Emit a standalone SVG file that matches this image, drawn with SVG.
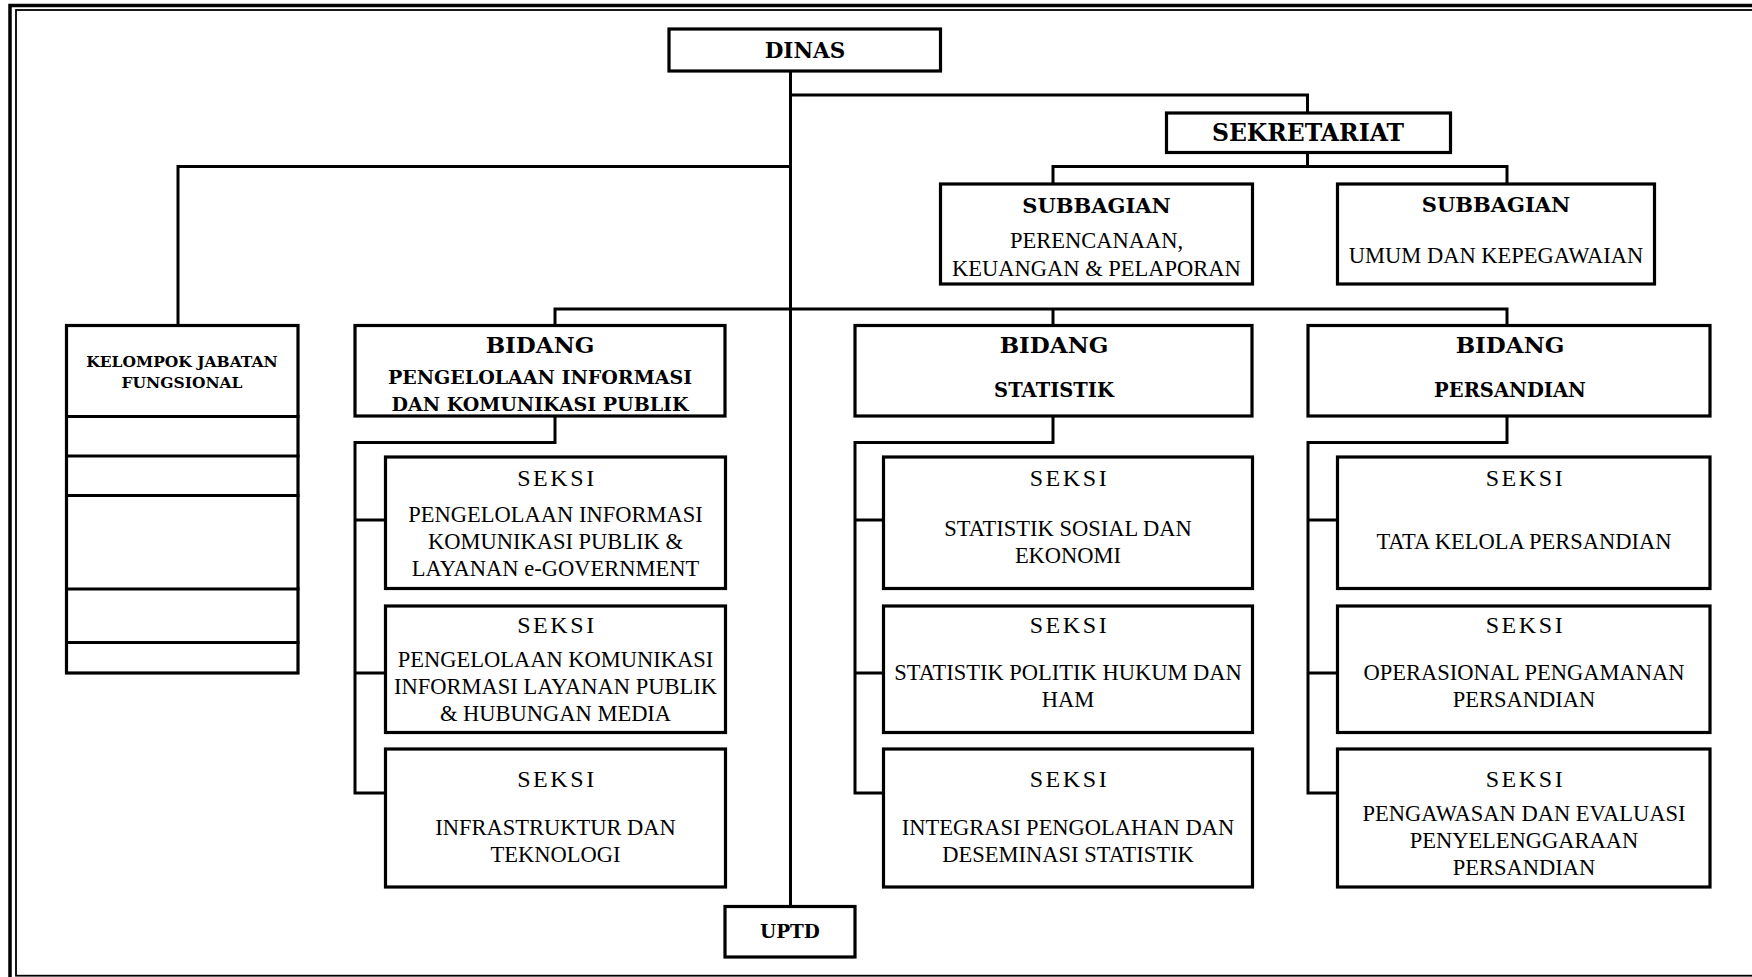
<svg xmlns="http://www.w3.org/2000/svg" width="1752" height="977" viewBox="0 0 1752 977">
<style>
.box{fill:#fff;stroke:#000;stroke-width:3.2}
.ln{fill:none;stroke:#000;stroke-width:3;stroke-linecap:square}
.h{font-family:"DejaVu Serif","Liberation Serif",serif;font-weight:bold;text-anchor:middle;fill:#000}
.t{font-family:"Liberation Serif","Times New Roman",serif;font-size:22.5px;text-anchor:middle;fill:#000}
.sk{font-family:"Liberation Serif","Times New Roman",serif;font-size:24px;letter-spacing:2.6px;text-anchor:middle;fill:#000}
</style>
<rect x="0" y="0" width="1752" height="977" fill="#fff"/>
<g id="frame">
<rect x="10" y="5.5" width="1760" height="990" fill="none" stroke="#000" stroke-width="3.5"/>
<rect x="16" y="10" width="1750" height="965.7" fill="none" stroke="#000" stroke-width="1.8"/>
</g>
<g id="connectors">
<path class="ln" d="M790.5 71 V906"/>
<path class="ln" d="M790.5 95 H1307.5 V113"/>
<path class="ln" d="M1307.5 152 V166.5 M1053 166.5 H1507 M1053 166.5 V184 M1507 166.5 V184"/>
<path class="ln" d="M790.5 166.5 H178 V325"/>
<path class="ln" d="M555 309 H1507 M555 309 V325 M1053 309 V325 M1507 309 V325"/>
<path class="ln" d="M555 416 V442.5 H355 V793 M355 520 H385.5 M355 673 H385.5 M355 793 H385.5"/>
<path class="ln" d="M1053 416 V442.5 H855 V793 M855 520 H883.5 M855 673 H883.5 M855 793 H883.5"/>
<path class="ln" d="M1507 416 V442.5 H1308 V793 M1308 520 H1337.5 M1308 673 H1337.5 M1308 793 H1337.5"/>
</g>
<g id="dinas">
<rect class="box" x="669" y="29" width="271.5" height="42"/>
<text class="h" x="805" y="57.7" font-size="21.5">DINAS</text>
</g>
<g id="sekretariat">
<rect class="box" x="1166.5" y="113" width="284" height="39.5"/>
<text class="h" x="1308" y="141" font-size="23.5">SEKRETARIAT</text>
</g>
<g id="subbagian-perencanaan">
<rect class="box" x="940.5" y="184" width="312" height="100"/>
<text class="h" x="1096.5" y="212.7" font-size="21">SUBBAGIAN</text>
<text class="t" x="1096.5" y="248">PERENCANAAN,</text>
<text class="t" x="1096.5" y="275.5">KEUANGAN &amp; PELAPORAN</text>
</g>
<g id="subbagian-umum">
<rect class="box" x="1337.5" y="184" width="317" height="100"/>
<text class="h" x="1496" y="212.3" font-size="21">SUBBAGIAN</text>
<text class="t" x="1496" y="262.5">UMUM DAN KEPEGAWAIAN</text>
</g>
<g id="kelompok-jabatan-fungsional">
<rect class="box" x="66.5" y="325.5" width="231.5" height="347.5"/>
<path class="ln" d="M66.5 416.5 H298 M66.5 456 H298 M66.5 495.5 H298 M66.5 589 H298 M66.5 642.5 H298"/>
<text class="h" x="182" y="366.7" font-size="15.5">KELOMPOK JABATAN</text>
<text class="h" x="182" y="388.3" font-size="15.5">FUNGSIONAL</text>
</g>
<g id="bidang-pikp">
<rect class="box" x="355" y="325.5" width="370" height="90.5"/>
<text class="h" x="540" y="353.3" font-size="23">BIDANG</text>
<text class="h" x="540" y="384" font-size="19">PENGELOLAAN INFORMASI</text>
<text class="h" x="540" y="410.7" font-size="19">DAN KOMUNIKASI PUBLIK</text>
</g>
<g id="bidang-statistik">
<rect class="box" x="855" y="325.5" width="397" height="90.5"/>
<text class="h" x="1054" y="353.3" font-size="23">BIDANG</text>
<text class="h" x="1054" y="396.7" font-size="19.5">STATISTIK</text>
</g>
<g id="bidang-persandian">
<rect class="box" x="1308" y="325.5" width="402" height="90.5"/>
<text class="h" x="1510" y="353.3" font-size="23">BIDANG</text>
<text class="h" x="1510" y="396.7" font-size="19.5">PERSANDIAN</text>
</g>
<g id="seksi-pikp-1">
<rect class="box" x="385.5" y="457" width="340" height="131.5"/>
<text class="sk" x="557" y="485.7">SEKSI</text>
<text class="t" x="555.5" y="521.7">PENGELOLAAN INFORMASI</text>
<text class="t" x="555.5" y="548.5">KOMUNIKASI PUBLIK &amp;</text>
<text class="t" x="555.5" y="575.5">LAYANAN e-GOVERNMENT</text>
</g>
<g id="seksi-pikp-2">
<rect class="box" x="385.5" y="606" width="340" height="126.5"/>
<text class="sk" x="557" y="633.3">SEKSI</text>
<text class="t" x="555.5" y="667">PENGELOLAAN KOMUNIKASI</text>
<text class="t" x="555.5" y="694">INFORMASI LAYANAN PUBLIK</text>
<text class="t" x="555.5" y="721">&amp; HUBUNGAN MEDIA</text>
</g>
<g id="seksi-pikp-3">
<rect class="box" x="385.5" y="749" width="340" height="138"/>
<text class="sk" x="557" y="786.5">SEKSI</text>
<text class="t" x="555.5" y="835">INFRASTRUKTUR DAN</text>
<text class="t" x="555.5" y="861.7">TEKNOLOGI</text>
</g>
<g id="seksi-statistik-1">
<rect class="box" x="883.5" y="457" width="369" height="131.5"/>
<text class="sk" x="1069.5" y="485.7">SEKSI</text>
<text class="t" x="1068" y="536">STATISTIK SOSIAL DAN</text>
<text class="t" x="1068" y="563.3">EKONOMI</text>
</g>
<g id="seksi-statistik-2">
<rect class="box" x="883.5" y="606" width="369" height="126.5"/>
<text class="sk" x="1069.5" y="633.3">SEKSI</text>
<text class="t" x="1068" y="680">STATISTIK POLITIK HUKUM DAN</text>
<text class="t" x="1068" y="707.3">HAM</text>
</g>
<g id="seksi-statistik-3">
<rect class="box" x="883.5" y="749" width="369" height="138"/>
<text class="sk" x="1069.5" y="786.5">SEKSI</text>
<text class="t" x="1068" y="834.5">INTEGRASI PENGOLAHAN DAN</text>
<text class="t" x="1068" y="861.7">DESEMINASI STATISTIK</text>
</g>
<g id="seksi-persandian-1">
<rect class="box" x="1337.5" y="457" width="372.5" height="131.5"/>
<text class="sk" x="1525.5" y="485.7">SEKSI</text>
<text class="t" x="1524" y="549.3">TATA KELOLA PERSANDIAN</text>
</g>
<g id="seksi-persandian-2">
<rect class="box" x="1337.5" y="606" width="372.5" height="126.5"/>
<text class="sk" x="1525.5" y="633.3">SEKSI</text>
<text class="t" x="1524" y="680">OPERASIONAL PENGAMANAN</text>
<text class="t" x="1524" y="707.3">PERSANDIAN</text>
</g>
<g id="seksi-persandian-3">
<rect class="box" x="1337.5" y="749" width="372.5" height="138"/>
<text class="sk" x="1525.5" y="786.5">SEKSI</text>
<text class="t" x="1524" y="820.5">PENGAWASAN DAN EVALUASI</text>
<text class="t" x="1524" y="848">PENYELENGGARAAN</text>
<text class="t" x="1524" y="875.3">PERSANDIAN</text>
</g>
<g id="uptd">
<rect class="box" x="725" y="906.5" width="130" height="50.5"/>
<text class="h" x="790" y="938.3" font-size="18.5">UPTD</text>
</g>
</svg>
